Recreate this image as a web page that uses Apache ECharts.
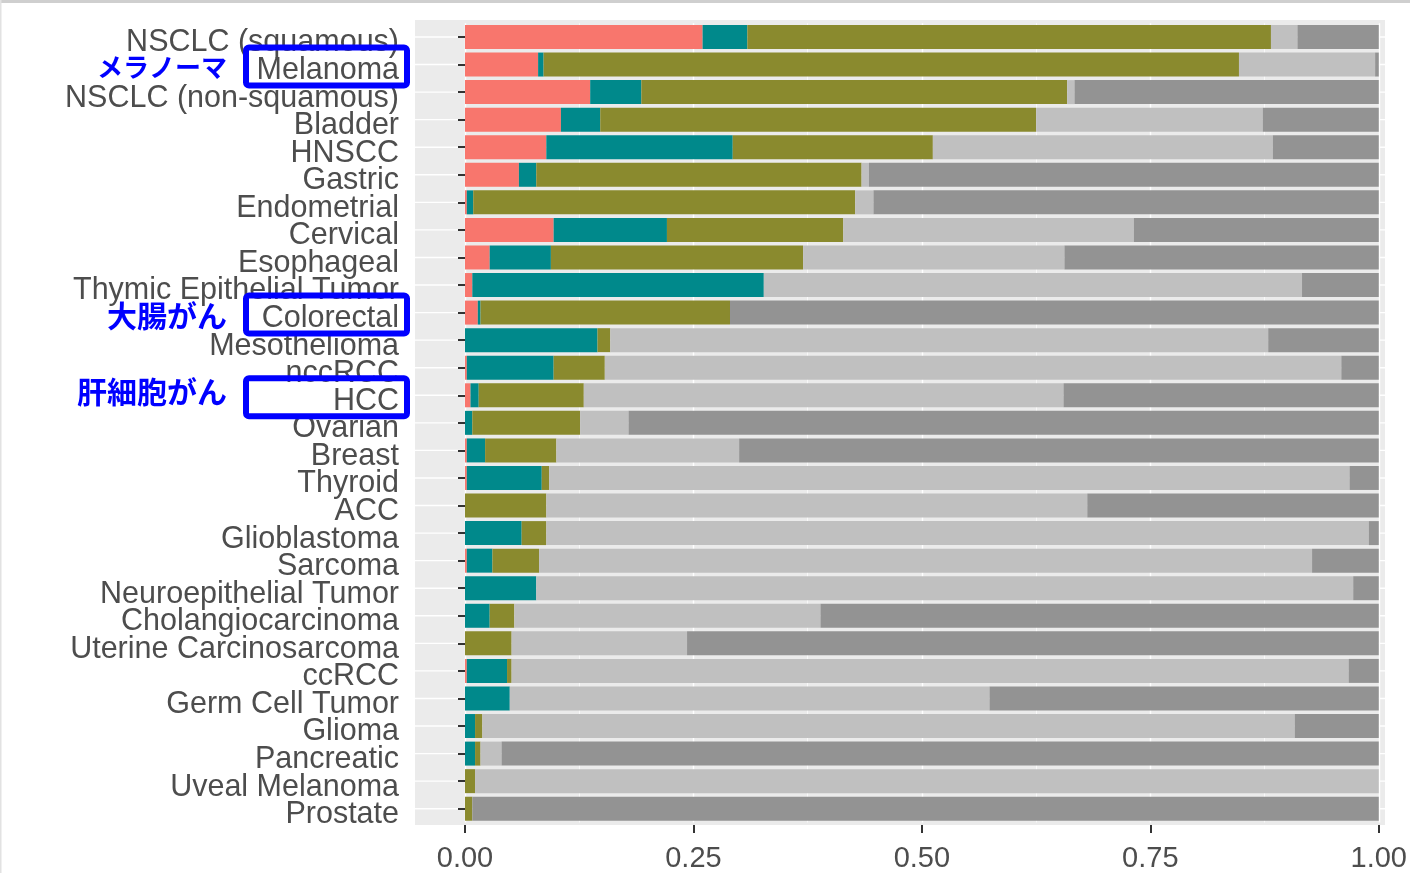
<!DOCTYPE html>
<html>
<head>
<meta charset="utf-8">
<script src="https://cdn.jsdelivr.net/npm/echarts@6/dist/echarts.min.js"></script>
<style>
  html, body { margin: 0; padding: 0; background: #ffffff; }
  #chart { width: 1410px; height: 873px; }
</style>
</head>
<body>
<div id="chart"></div>
<script>
// Tumour types, listed top to bottom
const categories = [
  'NSCLC (squamous)', 'Melanoma', 'NSCLC (non-squamous)', 'Bladder', 'HNSCC',
  'Gastric', 'Endometrial', 'Cervical', 'Esophageal', 'Thymic Epithelial Tumor',
  'Colorectal', 'Mesothelioma', 'nccRCC', 'HCC', 'Ovarian', 'Breast', 'Thyroid',
  'ACC', 'Glioblastoma', 'Sarcoma', 'Neuroepithelial Tumor', 'Cholangiocarcinoma',
  'Uterine Carcinosarcoma', 'ccRCC', 'Germ Cell Tumor', 'Glioma', 'Pancreatic',
  'Uveal Melanoma', 'Prostate'
];

// Proportion of each group per tumour type (each row sums to 1)
const group1 = [0.260, 0.080, 0.137, 0.105, 0.089, 0.059, 0.002, 0.097, 0.027, 0.008,
                0.014, 0.000, 0.002, 0.006, 0.000, 0.002, 0.002, 0.000, 0.000, 0.002,
                0.000, 0.000, 0.000, 0.002, 0.000, 0.000, 0.000, 0.000, 0.000];
const group2 = [0.049, 0.006, 0.056, 0.043, 0.204, 0.019, 0.007, 0.124, 0.067, 0.319,
                0.003, 0.145, 0.095, 0.009, 0.008, 0.020, 0.082, 0.000, 0.062, 0.028,
                0.078, 0.027, 0.000, 0.044, 0.049, 0.011, 0.011, 0.000, 0.000];
const group3 = [0.573, 0.761, 0.466, 0.477, 0.219, 0.356, 0.418, 0.193, 0.276, 0.000,
                0.273, 0.014, 0.056, 0.115, 0.118, 0.078, 0.008, 0.089, 0.027, 0.051,
                0.000, 0.027, 0.051, 0.005, 0.000, 0.008, 0.006, 0.011, 0.008];
const group4 = [0.029, 0.149, 0.008, 0.248, 0.372, 0.008, 0.020, 0.318, 0.286, 0.589,
                0.000, 0.720, 0.806, 0.525, 0.053, 0.200, 0.876, 0.592, 0.900, 0.846,
                0.894, 0.335, 0.192, 0.916, 0.525, 0.889, 0.023, 0.989, 0.000];
const group5 = [0.089, 0.004, 0.333, 0.127, 0.116, 0.558, 0.553, 0.268, 0.344, 0.084,
                0.710, 0.121, 0.041, 0.345, 0.821, 0.700, 0.032, 0.319, 0.011, 0.073,
                0.028, 0.611, 0.757, 0.033, 0.426, 0.092, 0.960, 0.000, 0.992];

const groupNames = ['Group 1', 'Group 2', 'Group 3', 'Group 4', 'Group 5'];
const xTicks = [0, 0.25, 0.5, 0.75, 1];

// Highlighted tumour types with their Japanese names
const highlights = [
  { category: 'Melanoma',   text: 'メラノーマ' },
  { category: 'Colorectal', text: '大腸がん' },
  { category: 'HCC',        text: '肝細胞がん' }
];

const groupColors = ['#F8766D', '#00898B', '#8A8A2E', '#C0C0C0', '#939393'];
const highlightFontSizes = [26, 30, 30];
const highlightTextShift = [2.5, 2.5, -4];

const LATIN = '"Liberation Sans", Arial, Helvetica, sans-serif';
const CJK = '"Noto Sans CJK JP", "Noto Sans CJK SC", sans-serif';

// Plot geometry
const GRID = { left: 465, top: 23.2, width: 914.3, height: 799.3 };
const PANEL = { x: 415, y: 20, w: 970, h: 805 };

const chart = echarts.init(document.getElementById('chart'), null, { renderer: 'canvas' });

const seriesData = [group1, group2, group3, group4, group5];

const option = {
  animation: false,
  backgroundColor: '#ffffff',
  grid: {
    left: GRID.left,
    top: GRID.top,
    width: GRID.width,
    height: GRID.height,
    containLabel: false
  },
  xAxis: {
    type: 'value',
    min: xTicks[0],
    max: xTicks[xTicks.length - 1],
    interval: xTicks[1] - xTicks[0],
    offset: PANEL.y + PANEL.h - (GRID.top + GRID.height),
    axisLine: { show: false },
    axisTick: { show: true, length: 8, lineStyle: { color: '#333333', width: 2 } },
    axisLabel: {
      fontSize: 29,
      color: '#4D4D4D',
      fontFamily: LATIN,
      margin: 19,
      formatter: v => v.toFixed(2)
    },
    splitLine: { show: true, lineStyle: { color: '#ffffff', width: 1.4 } },
    minorTick: { show: false, splitNumber: 2 },
    minorSplitLine: { show: true, lineStyle: { color: '#ffffff', width: 0.7 } }
  },
  yAxis: {
    type: 'category',
    data: categories,
    inverse: true,
    offset: GRID.left - PANEL.x,
    axisLine: { show: false },
    axisTick: {
      show: true, alignWithLabel: true, interval: 0, length: 7,
      lineStyle: { color: '#333333', width: 2 }
    },
    axisLabel: {
      interval: 0,
      fontSize: 30.5,
      color: '#4D4D4D',
      fontFamily: LATIN,
      margin: 16,
      verticalAlign: 'top',
      lineHeight: 12
    },
    splitLine: { show: false }
  },
  series: seriesData.map((vals, i) => ({
    name: groupNames[i],
    type: 'bar',
    stack: 'share',
    barWidth: '87%',
    data: vals,
    itemStyle: { color: groupColors[i] },
    emphasis: { disabled: true }
  }))
};

chart.setOption(option);

// Panel background, row gridlines and highlight annotations
const graphics = [];
graphics.push({
  type: 'rect', z: -10, silent: true,
  shape: { x: 0, y: 0, width: 1410, height: 3 },
  style: { fill: '#CFCFCF' }
});
graphics.push({
  type: 'rect', z: -10, silent: true,
  shape: { x: 0, y: 0, width: 1.5, height: 873 },
  style: { fill: '#E2E2E2' }
});
graphics.push({
  type: 'rect', z: -10, silent: true,
  shape: { x: PANEL.x, y: PANEL.y, width: PANEL.w, height: PANEL.h },
  style: { fill: '#EBEBEB' }
});
categories.forEach(cat => {
  const y = chart.convertToPixel({ yAxisIndex: 0 }, cat);
  graphics.push({
    type: 'line', z: -5, silent: true,
    shape: { x1: PANEL.x, y1: y, x2: PANEL.x + PANEL.w, y2: y },
    style: { stroke: '#ffffff', lineWidth: 1.4 }
  });
});
highlights.forEach((h, i) => {
  const rowY = chart.convertToPixel({ yAxisIndex: 0 }, h.category);
  const cy = rowY + 2;
  graphics.push({
    type: 'rect', z: 100, silent: true,
    shape: { x: 246, y: cy - 19, width: 161, height: 38, r: 3 },
    style: { fill: 'none', stroke: '#0000FF', lineWidth: 6 }
  });
  graphics.push({
    type: 'text', z: 100, silent: true,
    x: 227, y: rowY + highlightTextShift[i],
    style: {
      text: h.text,
      fill: '#0000FF',
      font: 'bold ' + highlightFontSizes[i] + 'px ' + CJK,
      textAlign: 'right',
      textVerticalAlign: 'middle'
    }
  });
});

chart.setOption({ graphic: { elements: graphics } });
</script>
</body>
</html>
